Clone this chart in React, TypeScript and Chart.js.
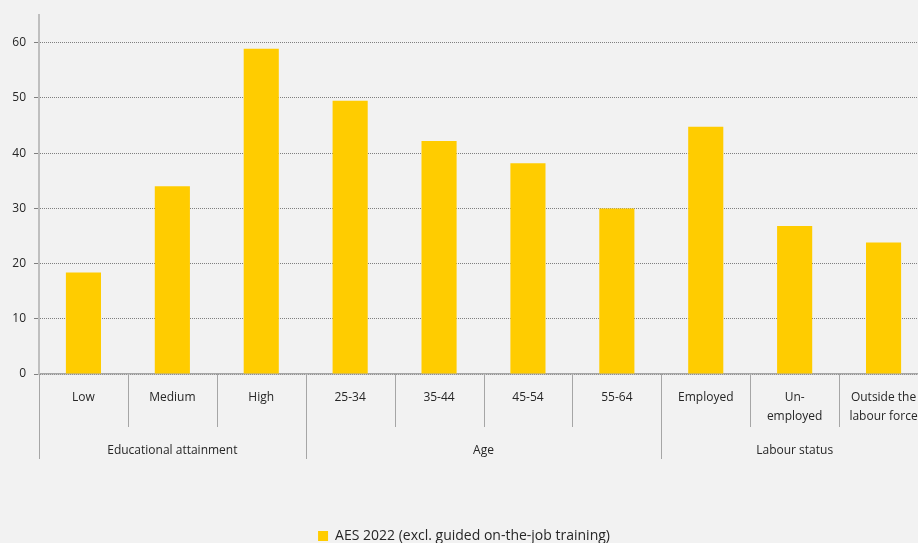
import React, { useEffect, useRef } from "react";
import { Chart, registerables } from "chart.js";

Chart.register(...registerables);

const categories: (string | string[])[] = [
  "Low", "Medium", "High",
  "25-34", "35-44", "45-54", "55-64",
  "Employed", ["Un-", "employed"], ["Outside the", "labour force"],
];
const values = [18.4, 34.0, 58.9, 49.5, 42.2, 38.2, 30.0, 44.8, 26.8, 23.8];
const groupNames = ["Educational attainment", "Age", "Labour status"];
const groupSizes = [3, 4, 3];
const seriesLabel = "AES 2022 (excl. guided on-the-job training)";
const yTicks = [0, 10, 20, 30, 40, 50, 60];

const FONT = "'Open Sans', sans-serif";

export default function App() {
  const ref = useRef<HTMLCanvasElement | null>(null);

  useEffect(() => {
    document.body.style.margin = "0";
    document.body.style.background = "#f2f2f2";
    document.documentElement.style.overflow = "hidden";
    if (!ref.current) return;

    const groupPlugin = {
      id: "groupPlugin",
      afterDraw(chart: any) {
        const ctx = chart.ctx;
        const x = chart.scales.x;
        const area = chart.chartArea;
        const n = categories.length;
        const half = (x.getPixelForTick(1) - x.getPixelForTick(0)) / 2;
        const bounds: number[] = [];
        for (let i = 0; i <= n; i++) {
          bounds.push(i === 0 ? area.left : x.getPixelForTick(i - 1) + half);
        }
        const groupStarts: number[] = [0];
        let acc = 0;
        groupSizes.forEach((s) => { acc += s; groupStarts.push(acc); });
        ctx.save();
        ctx.strokeStyle = "#a6a6a6";
        ctx.lineWidth = 1;
        for (let i = 0; i < n; i++) {
          const isGroup = groupStarts.includes(i);
          const px = Math.round(bounds[i]) + 0.5;
          ctx.beginPath();
          ctx.moveTo(px, area.bottom);
          ctx.lineTo(px, isGroup ? area.bottom + 85 : area.bottom + 53);
          ctx.stroke();
        }
        ctx.fillStyle = "#262626";
        ctx.font = `12px ${FONT}`;
        ctx.textAlign = "center";
        ctx.textBaseline = "middle";
        for (let g = 0; g < groupNames.length; g++) {
          const l = bounds[groupStarts[g]];
          const r = bounds[groupStarts[g + 1]];
          ctx.fillText(groupNames[g], (l + r) / 2, area.bottom + 77);
        }
        ctx.restore();
      },
    };

    const chart = new Chart(ref.current, {
      type: "bar",
      data: {
        labels: categories as any,
        datasets: [
          {
            label: seriesLabel,
            data: values,
            backgroundColor: "#ffcc00",
            borderWidth: 0,
            barPercentage: 0.395,
            categoryPercentage: 1,
          },
        ],
      },
      options: {
        animation: false,
        responsive: false,
        devicePixelRatio: 1,
        layout: { padding: { top: 13, left: 0, right: 0, bottom: -10 } },
        plugins: {
          tooltip: { enabled: false },
          legend: {
            position: "bottom",
            labels: {
              boxWidth: 10,
              boxHeight: 10,
              padding: 2,
              color: "#262626",
              font: { family: FONT, size: 14 },
            },
          },
        },
        scales: {
          x: {
            grid: { display: false },
            border: { display: true, color: "#a6a6a6", width: 1.5 },
            ticks: {
              autoSkip: false,
              maxRotation: 0,
              minRotation: 0,
              padding: 6,
              color: "#262626",
              font: { family: FONT, size: 12, lineHeight: 1.6 },
            },
            afterFit: (scale: any) => {
              scale.height = 153;
            },
          },
          y: {
            min: 0,
            max: 65,
            border: { display: true, color: "#bfbfbf", width: 2, dash: [1, 1] },
            grid: {
              color: "#7f7f7f",
              lineWidth: 1,
              tickLength: 5,
              tickColor: "#7f7f7f",
              tickBorderDash: [],
            } as any,
            ticks: {
              padding: 8,
              color: "#262626",
              font: { family: FONT, size: 12 },
            },
            afterBuildTicks: (scale: any) => {
              scale.ticks = yTicks.map((v) => ({ value: v }));
            },
            afterFit: (scale: any) => {
              scale.width = 39;
            },
          } as any,
        },
      },
      plugins: [groupPlugin],
    });

    return () => chart.destroy();
  }, []);

  return (
    <div
      style={{
        position: "relative",
        width: 918,
        height: 543,
        overflow: "hidden",
        background: "#f2f2f2",
      }}
    >
      <canvas
        ref={ref}
        width={928}
        height={543}
        style={{ position: "absolute", left: 0, top: 0, width: 928, height: 543 }}
      />
    </div>
  );
}
